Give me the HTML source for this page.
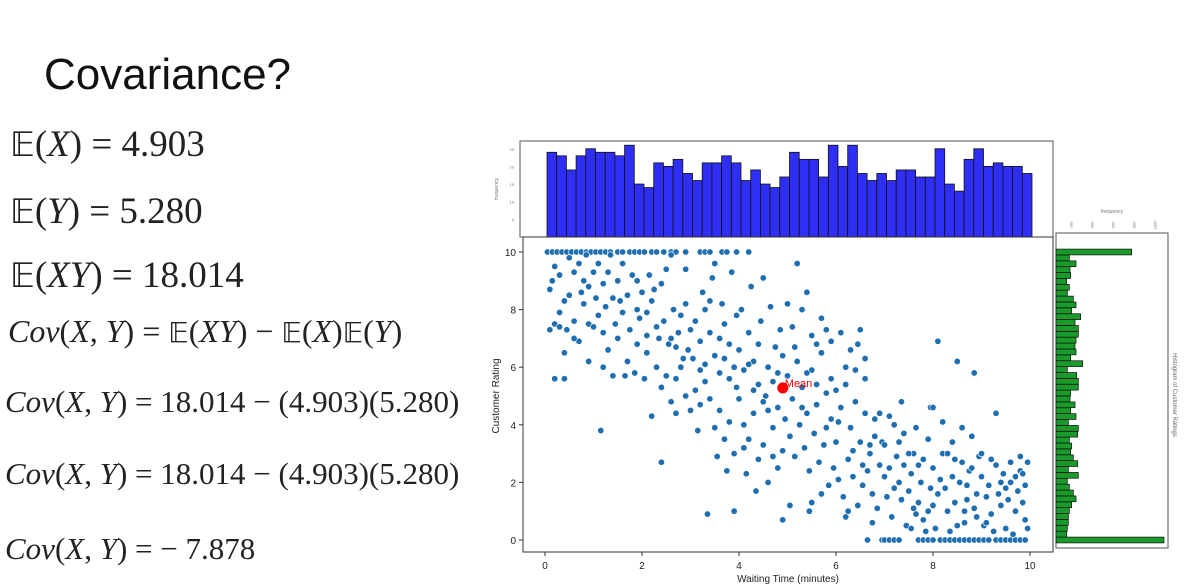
<!DOCTYPE html>
<html><head><meta charset="utf-8"><style>
html,body{margin:0;padding:0;background:#fff;width:1185px;height:586px;overflow:hidden}
.t{position:absolute;white-space:nowrap;font-family:"Liberation Serif","DejaVu Serif",serif;color:#222}
i{font-style:italic}
</style></head><body>
<div class="t" style="left:44px;top:50px;font-family:'Liberation Sans',sans-serif;font-size:44px;color:#111">Covariance?</div>
<div class="t" style="left:10px;top:123px;font-size:37px"><span style="font-family:'DejaVu Sans',serif;font-size:34px">𝔼</span>(<i>X</i>) = 4.903</div>
<div class="t" style="left:10px;top:190px;font-size:37px"><span style="font-family:'DejaVu Sans',serif;font-size:34px">𝔼</span>(<i>Y</i>) = 5.280</div>
<div class="t" style="left:10px;top:254px;font-size:37px"><span style="font-family:'DejaVu Sans',serif;font-size:34px">𝔼</span>(<i>XY</i>) = 18.014</div>
<div class="t" style="left:8px;top:313px;font-size:32px"><i>Cov</i>(<i>X</i>, <i>Y</i>) = <span style="font-family:'DejaVu Sans',serif;font-size:28px">𝔼</span>(<i>XY</i>) − <span style="font-family:'DejaVu Sans',serif;font-size:28px">𝔼</span>(<i>X</i>)<span style="font-family:'DejaVu Sans',serif;font-size:28px">𝔼</span>(<i>Y</i>)</div>
<div class="t" style="left:5px;top:384px;font-size:31px"><i>Cov</i>(<i>X</i>, <i>Y</i>) = 18.014 − (4.903)(5.280)</div>
<div class="t" style="left:5px;top:456px;font-size:31px"><i>Cov</i>(<i>X</i>, <i>Y</i>) = 18.014 − (4.903)(5.280)</div>
<div class="t" style="left:5px;top:531px;font-size:31px"><i>Cov</i>(<i>X</i>, <i>Y</i>) = − 7.878</div>

<svg id="chart" width="1185" height="586" style="position:absolute;left:0;top:0" font-family="Liberation Sans, sans-serif"></svg>
<script>
const topCounts=[24,23,19,23,25,24,24,23,26,15,14,21,20,22,18,16,21,21,23,21,16,19,15,14,17,24,22,22,17,26,20,26,18,16,18,16,19,19,17,17,25,15,13,22,25,20,21,20,20,18];
const rightCounts=[324,32,34,37,37,40,47,60,52,40,34,67,37,65,52,44,47,40,65,67,37,60,44,57,42,44,67,67,62,34,80,44,60,57,60,67,67,57,74,47,60,52,34,40,32,44,42,60,40,227];
const xTicks=[0,2,4,6,8,10];
const yTicks=[0,2,4,6,8,10];
const topTicks=[5,10,15,20,25];
const rightTicks=[50,113,176,239,302];
const rightTickLabels=["200","400","600","800","1000"];
const meanPoint=[4.903,5.280];
const topRow=[0.05,0.15,0.25,0.35,0.45,0.55,0.65,0.75,0.85,0.95,1.05,1.15,1.25,1.35,1.5,1.6,1.75,1.85,1.95,2.05,2.2,2.3,2.45,2.6,2.7,2.9,3.2,3.3,3.4,3.65,3.75,3.95,4.2];
const bottomRow=[6.65,6.95,7.0,7.1,7.2,7.3,7.7,7.8,7.9,8.0,8.15,8.25,8.35,8.45,8.55,8.65,8.75,8.85,8.95,9.05,9.15,9.3,9.4,9.5,9.6,9.7,9.8,9.9];
const points=[[0.1,8.7],[0.2,9.5],[0.3,9.2],[0.4,8.3],[0.2,7.5],[0.1,7.3],[0.3,7.4],[0.6,7.6],[0.5,8.5],[0.7,9.6],[0.8,9.0],[0.6,9.3],[0.9,8.8],[0.4,6.5],[0.2,5.6],[0.4,5.6],[0.7,6.9],[0.9,7.5],[0.8,8.2],[1.0,9.3],[0.5,9.8],[0.9,6.2],[0.3,7.9],[0.6,7.0],[0.15,9.0],[0.85,9.9],[0.45,7.3],[0.75,8.6],
[1.1,9.6],[1.2,8.9],[1.3,9.3],[1.4,8.4],[1.5,9.0],[1.1,7.8],[1.2,7.2],[1.3,6.6],[1.5,7.0],[1.6,7.9],[1.7,8.5],[1.8,9.2],[1.9,8.0],[1.4,5.7],[1.7,6.2],[1.9,6.8],[1.0,7.4],[1.6,9.6],[1.25,8.1],[1.45,7.5],[1.75,7.3],[1.95,7.7],[1.2,6.0],[1.85,5.8],[1.55,8.3],[1.15,3.8],[1.35,9.9],[1.65,5.7],[1.05,8.4],[1.9,9.0],
[2.0,8.6],[2.1,7.9],[2.2,8.3],[2.3,7.4],[2.4,8.9],[2.5,9.4],[2.6,7.0],[2.7,6.7],[2.8,7.8],[2.9,8.2],[2.1,6.5],[2.3,6.0],[2.5,5.7],[2.7,5.6],[2.9,5.0],[2.2,4.3],[2.4,2.7],[2.6,4.8],[2.8,6.0],[3.0,7.3],[2.15,9.2],[2.45,7.6],[2.65,8.0],[2.85,6.3],[2.05,5.6],[2.35,7.0],[2.55,6.8],[2.75,7.2],[2.95,6.6],[2.25,8.7],[2.6,9.9],[2.9,9.4],[2.4,5.3],[2.7,4.4],[2.1,7.1],
[3.1,7.6],[3.2,6.9],[3.3,8.0],[3.4,7.2],[3.5,6.4],[3.6,5.8],[3.7,7.5],[3.8,6.8],[3.9,6.0],[3.1,5.2],[3.2,4.7],[3.3,5.5],[3.4,4.9],[3.5,3.9],[3.6,4.5],[3.7,3.5],[3.8,4.1],[3.9,3.0],[3.05,6.3],[3.25,8.6],[3.45,9.1],[3.65,8.2],[3.85,9.3],[3.15,3.8],[3.35,0.9],[3.9,1.0],[3.55,2.9],[3.75,2.4],[3.95,5.3],[3.5,9.6],[3.3,6.1],[3.7,6.3],[3.0,4.5],[3.2,5.9],[3.6,7.0],[3.8,5.6],[3.4,8.3],[3.95,7.8],
[4.0,6.6],[4.1,5.9],[4.2,7.2],[4.3,6.2],[4.4,5.4],[4.5,4.8],[4.6,6.0],[4.7,5.5],[4.8,4.6],[4.9,6.4],[4.1,4.0],[4.2,3.5],[4.3,4.4],[4.4,2.8],[4.5,3.3],[4.6,2.0],[4.7,3.9],[4.8,2.5],[4.9,3.1],[4.05,8.0],[4.25,8.8],[4.45,7.6],[4.65,8.1],[4.85,7.3],[4.15,2.3],[4.35,1.7],[4.55,5.0],[4.75,6.7],[4.95,4.2],[4.5,9.1],[4.0,4.9],[4.3,5.2],[4.6,4.5],[4.8,5.8],[4.9,0.7],[4.2,6.1],[4.7,2.9],[4.4,6.8],[4.1,3.2],
[5.0,5.7],[5.1,4.9],[5.2,6.2],[5.3,5.3],[5.4,4.4],[5.5,5.9],[5.6,4.7],[5.7,6.5],[5.8,5.1],[5.9,4.2],[5.05,3.6],[5.15,2.9],[5.25,4.0],[5.35,3.2],[5.45,2.4],[5.55,3.7],[5.65,2.7],[5.75,3.3],[5.85,1.9],[5.95,2.5],[5.1,7.4],[5.3,8.0],[5.5,7.1],[5.7,7.7],[5.9,6.9],[5.2,9.6],[5.4,8.6],[5.6,6.8],[5.8,7.3],[5.05,1.2],[5.5,1.3],[5.7,1.6],[5.3,4.6],[5.6,5.4],[5.9,5.6],[5.0,8.2],[5.4,5.8],[5.8,3.9],[5.15,6.7],[5.45,1.0],
[6.0,5.2],[6.1,4.6],[6.2,6.0],[6.3,3.9],[6.4,4.8],[6.5,3.4],[6.6,5.6],[6.7,3.0],[6.8,4.2],[6.9,2.6],[6.05,2.1],[6.15,1.5],[6.25,2.8],[6.35,2.2],[6.45,1.2],[6.55,1.9],[6.65,2.4],[6.75,1.6],[6.85,1.1],[6.95,3.4],[6.1,7.2],[6.3,6.6],[6.5,7.3],[6.2,5.4],[6.4,5.9],[6.6,6.3],[6.8,3.6],[6.9,4.4],[6.0,3.4],[6.35,3.1],[6.55,2.6],[6.75,0.6],[6.2,0.8],[6.6,4.4],[6.45,6.8],[6.05,4.1],[6.7,3.3],[6.25,1.0],
[7.0,3.3],[7.1,2.5],[7.2,4.0],[7.3,2.0],[7.4,3.7],[7.5,1.7],[7.6,3.0],[7.7,1.3],[7.8,2.8],[7.9,1.0],[7.05,1.5],[7.15,0.8],[7.25,2.9],[7.35,1.4],[7.45,0.5],[7.55,2.3],[7.65,0.9],[7.75,2.0],[7.85,0.3],[7.95,1.8],[7.1,4.3],[7.3,3.4],[7.5,3.0],[7.7,2.6],[7.9,3.5],[7.4,2.6],[7.6,1.1],[7.8,0.7],[7.2,1.8],[7.0,2.2],[7.35,4.8],[7.65,3.9],[7.55,0.4],[7.95,4.6],
[8.0,2.5],[8.1,1.6],[8.2,3.0],[8.3,1.0],[8.4,2.2],[8.5,0.5],[8.6,2.7],[8.7,1.4],[8.8,3.6],[8.9,0.8],[8.05,0.4],[8.15,2.1],[8.25,1.8],[8.35,0.3],[8.45,1.3],[8.55,2.0],[8.65,0.6],[8.75,2.4],[8.85,1.1],[8.95,2.9],[8.0,4.6],[8.2,4.1],[8.4,3.4],[8.6,3.9],[8.8,2.5],[8.5,6.2],[8.1,6.9],[8.3,3.0],[8.7,1.9],[8.9,1.6],[8.0,1.2],[8.45,2.8],[8.65,1.0],[8.85,5.8],
[9.0,2.2],[9.1,1.5],[9.2,0.9],[9.3,2.6],[9.4,1.2],[9.5,0.4],[9.6,2.0],[9.7,1.0],[9.8,2.4],[9.9,0.7],[9.05,0.5],[9.15,1.9],[9.25,0.3],[9.35,1.6],[9.45,2.3],[9.55,1.4],[9.65,0.2],[9.75,1.7],[9.85,1.3],[9.95,2.7],[9.0,3.0],[9.2,2.8],[9.4,2.0],[9.6,2.7],[9.8,2.9],[9.3,4.4],[9.1,0.6],[9.5,1.8],[9.7,2.2],[9.9,1.9],[9.95,0.4],[9.85,2.3]];

const NS="http://www.w3.org/2000/svg";
const svg=document.getElementById('chart');
function el(tag,attrs,txt){const e=document.createElementNS(NS,tag);for(const k in attrs)e.setAttribute(k,attrs[k]);if(txt!==undefined)e.textContent=txt;svg.appendChild(e);return e;}
const sx=v=>545+v*48.5;
const sy=v=>540-v*28.8;
const topY=v=>237-v*3.53;
const rightX=v=>1056+v/3;

let b=el('rect',{x:520,y:141,width:533,height:96,fill:'#fff',stroke:'#555','stroke-width':1});


topTicks.forEach(t=>{
 let tl=el('text',{x:514,y:topY(t)+2,'font-size':4,fill:'#777','text-anchor':'end'},String(t));
 
 
});
let tyl=el('text',{x:498,y:189,'font-size':5,fill:'#777','text-anchor':'middle',transform:'rotate(-90 498 189)'},'frequency');


topCounts.forEach((c,i)=>{
 const x0=sx(i*0.2)+2,x1=sx((i+1)*0.2)+2;
 let r=el('rect',{x:x0,y:topY(c),width:x1-x0,height:237-topY(c),fill:'#2e2ef5',stroke:'#111','stroke-width':0.8});
 
 
});

let f=el('rect',{x:523,y:237,width:530,height:315,fill:'#fff',stroke:'#333','stroke-width':1});


xTicks.forEach(t=>{
 el('line',{x1:sx(t),x2:sx(t),y1:552,y2:556,stroke:'#333'});
 let l=el('text',{x:sx(t),y:569,'font-size':10,fill:'#222','text-anchor':'middle'},String(t));
 
 
});
yTicks.forEach(t=>{
 el('line',{x1:519,x2:523,y1:sy(t),y2:sy(t),stroke:'#333'});
 let l=el('text',{x:516,y:sy(t)+4,'font-size':10,fill:'#222','text-anchor':'end'},String(t));
 
 
});
let xt=el('text',{x:788,y:582,'font-size':10,fill:'#222','text-anchor':'middle'},'Waiting Time (minutes)');


let yt=el('text',{x:499,y:396,'font-size':10,fill:'#222','text-anchor':'middle',transform:'rotate(-90 499 396)'},'Customer Rating');


function dot(x,y){
 let c=el('circle',{cx:sx(x),cy:sy(y),r:3.2,fill:'#1f6fb0',stroke:'#fff','stroke-width':0.6});
 
 
}
topRow.forEach(x=>dot(x,10));
bottomRow.forEach(x=>dot(x,0));
points.forEach(p=>dot(p[0],p[1]));
let m=el('circle',{cx:sx(meanPoint[0]),cy:sy(meanPoint[1]),r:5.5,fill:'#f00'});


let ml=el('text',{x:sx(meanPoint[0])+2,y:sy(meanPoint[1])-1,'font-size':11,fill:'#e00'},'Mean');



let rf=el('rect',{x:1056,y:233,width:112,height:315,fill:'#fff',stroke:'#555','stroke-width':1});


rightTicks.forEach((t,i)=>{
 let l=el('text',{x:rightX(t),y:225,'font-size':4,fill:'#777','text-anchor':'middle',transform:`rotate(-90 ${rightX(t)} 225)`},rightTickLabels[i]);
 
 
});
let rxl=el('text',{x:1112,y:213,'font-size':5,fill:'#777','text-anchor':'middle'},'frequency');


rightCounts.forEach((c,i)=>{
 const r0=i*10/49;
 let r=el('rect',{x:1056,y:sy(r0)-2.9,width:rightX(c)-1056,height:5.8,fill:'#1a9a2a',stroke:'#111','stroke-width':0.7});
 
 
});
let rt=el('text',{x:1173,y:395,'font-size':6,fill:'#666','text-anchor':'middle',transform:'rotate(90 1173 395)'},'Histogram of Customer Ratings');


</script>
</body></html>
